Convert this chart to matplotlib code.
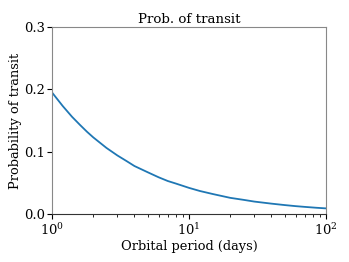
import numpy as np
import matplotlib
matplotlib.use("Agg")
import matplotlib.pyplot as plt

# orbital period (days) and transit probability
period = [1, 1.2, 1.4, 1.6, 1.8, 2, 2.5, 3, 3.5, 4, 5, 6, 7, 8, 10,
          12, 15, 20, 25, 30, 40, 50, 60, 70, 85, 100]
prob = [0.195, 0.173, 0.156, 0.143, 0.132, 0.123, 0.106, 0.094, 0.085,
        0.077, 0.067, 0.059, 0.053, 0.049, 0.042, 0.037, 0.032, 0.026,
        0.0228, 0.020, 0.0167, 0.0144, 0.0127, 0.0115, 0.0101, 0.0091]

plt.rcParams["font.family"] = "DejaVu Serif"
plt.rcParams["font.size"] = 9.4

fig = plt.figure(figsize=(3.49, 2.62), dpi=100)
ax = fig.add_axes([0.149, 0.183, 0.785, 0.714])
ax.plot(period, prob, color="#1f77b4", lw=1.3)
ax.set_xscale("log")
ax.set_xlim(1, 100)
ax.set_ylim(0, 0.3)
ax.set_yticks([0.0, 0.1, 0.2, 0.3])
ax.tick_params(which="major", length=3.5, pad=2)
ax.tick_params(axis="y", pad=1.2)
ax.tick_params(which="minor", length=2)
ax.set_xlabel("Orbital period (days)", labelpad=2)
ax.set_ylabel("Probability of transit", labelpad=1.5)
ax.set_title("Prob. of transit", fontsize=9.6, pad=3)
for s in ["top", "left", "right"]:
    ax.spines[s].set_color("#888888")
ax.spines["bottom"].set_color("#333333")
fig.savefig("out.png", dpi=100)
